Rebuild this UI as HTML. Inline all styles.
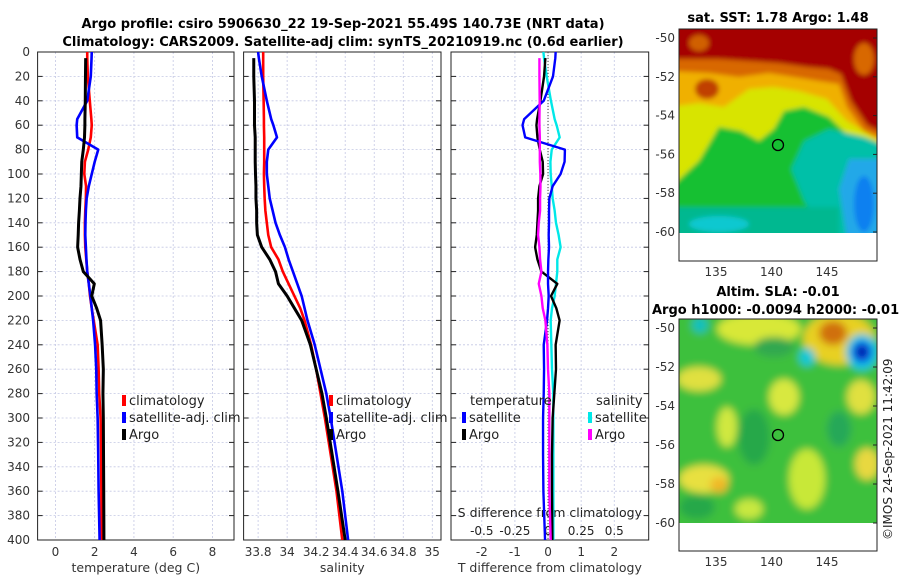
<!DOCTYPE html>
<html><head><meta charset="utf-8"><style>
html,body{margin:0;padding:0;background:#fff;}
svg{display:block;font-family:"DejaVu Sans","Liberation Sans",sans-serif;}
</style></head><body>
<svg id="fig" width="900" height="580" viewBox="0 0 900 580" xmlns="http://www.w3.org/2000/svg">
<defs>
<filter id="blur1" x="-20%" y="-20%" width="140%" height="140%"><feGaussianBlur stdDeviation="2.5"/></filter>
<filter id="blur2" x="-50%" y="-50%" width="200%" height="200%"><feGaussianBlur stdDeviation="4"/></filter>
<clipPath id="clipM1"><rect x="0" y="0" width="198" height="204"/></clipPath>
<clipPath id="clipM2"><rect x="0" y="0" width="198" height="204"/></clipPath>
</defs>
<text x="343" y="28" text-anchor="middle" font-size="13" font-weight="bold">Argo profile: csiro 5906630_22 19-Sep-2021 55.49S 140.73E (NRT data)</text>
<text x="343" y="46" text-anchor="middle" font-size="13" font-weight="bold">Climatology: CARS2009. Satellite-adj clim: synTS_20210919.nc (0.6d earlier)</text>
<g id="panels"></g>

<!-- SST map -->
<text x="778" y="22" text-anchor="middle" font-size="13" font-weight="bold">sat. SST: 1.78 Argo: 1.48</text>
<g transform="translate(679,29)">
 <g clip-path="url(#clipM1)"><g filter="url(#blur1)">
  <rect x="-10" y="-10" width="220" height="230" fill="#18c030"/>
  <polygon points="-10,-10 210,-10 210,130 175,112 150,88 125,78 105,82 95,100 80,112 62,102 40,98 20,132 -10,160" fill="#d8e400"/>
  <polygon points="-10,-10 210,-10 210,118 168,92 148,70 120,62 95,58 70,60 45,78 20,74 -10,78" fill="#f0b000"/>
  <polygon points="-10,-10 210,-10 210,112 185,102 168,78 160,55 140,52 115,48 90,44 60,48 30,44 -10,42" fill="#d86800"/>
  <polygon points="-10,-10 210,-10 210,108 188,96 172,72 162,45 150,40 128,38 100,34 70,32 40,30 15,30 -10,30" fill="#a50000"/>
  <ellipse cx="185" cy="30" rx="10" ry="16" fill="#d86800"/>
  <ellipse cx="28" cy="60" rx="12" ry="10" fill="#c04000"/>
  <ellipse cx="20" cy="14" rx="10" ry="8" fill="#d06000"/>
  <polygon points="150,100 125,112 112,140 125,172 150,210 210,210 210,118 185,108" fill="#00c0a8"/>
  <polygon points="170,130 160,160 168,210 210,210 210,130" fill="#20a8e8"/>
  <ellipse cx="185" cy="175" rx="10" ry="28" fill="#1080f0"/>
  <rect x="-10" y="178" width="170" height="40" fill="#00b890"/>
  <ellipse cx="40" cy="195" rx="30" ry="8" fill="#10c8d0"/>
 </g></g>
 <rect x="0" y="204" width="198" height="28" fill="#fff"/>
 <circle cx="99" cy="116" r="5.5" fill="none" stroke="#000" stroke-width="1.3"/>
 <rect x="0" y="0" width="198" height="232" fill="none" stroke="#222" stroke-width="1"/>
</g>
<g id="m1axes" font-size="12" fill="#333"></g>

<!-- SLA map -->
<text x="778" y="296" text-anchor="middle" font-size="13" font-weight="bold">Altim. SLA: -0.01</text>
<text x="652" y="314" font-size="13" font-weight="bold">Argo h1000: -0.0094 h2000: -0.01</text>
<g transform="translate(679,319)">
 <g clip-path="url(#clipM2)"><g filter="url(#blur2)">
  <rect x="-10" y="-10" width="220" height="230" fill="#3cc03c"/>
  <ellipse cx="80" cy="10" rx="42" ry="16" fill="#d8e838"/>
  <ellipse cx="160" cy="20" rx="36" ry="26" fill="#e8d020"/>
  <ellipse cx="154" cy="14" rx="14" ry="12" fill="#d07010"/>
  <ellipse cx="183" cy="33" rx="16" ry="18" fill="#10c8e8"/>
  <ellipse cx="183" cy="33" rx="10" ry="11" fill="#1040e0"/>
  <ellipse cx="183" cy="33" rx="5" ry="5" fill="#001890"/>
  <ellipse cx="128" cy="38" rx="8" ry="9" fill="#10c8d8"/>
  <ellipse cx="21" cy="6" rx="8" ry="8" fill="#10c0c0"/>
  <ellipse cx="20" cy="60" rx="22" ry="12" fill="#e0e040"/>
  <ellipse cx="105" cy="78" rx="15" ry="18" fill="#d8e840"/>
  <ellipse cx="48" cy="108" rx="10" ry="20" fill="#d0e840"/>
  <ellipse cx="182" cy="78" rx="14" ry="17" fill="#e0e040"/>
  <ellipse cx="188" cy="145" rx="12" ry="16" fill="#e8d840"/>
  <ellipse cx="25" cy="160" rx="25" ry="14" fill="#e8e040"/>
  <ellipse cx="40" cy="166" rx="9" ry="8" fill="#f0b828"/>
  <ellipse cx="128" cy="160" rx="18" ry="30" fill="#c8e838"/>
  <ellipse cx="75" cy="118" rx="16" ry="28" fill="#28a848"/>
  <ellipse cx="18" cy="188" rx="18" ry="12" fill="#28a848"/>
  <ellipse cx="95" cy="28" rx="20" ry="10" fill="#30a850"/>
  <ellipse cx="160" cy="110" rx="12" ry="18" fill="#28a858"/>
  <ellipse cx="70" cy="190" rx="14" ry="10" fill="#c8e840"/>
 </g></g>
 <rect x="0" y="204" width="198" height="28" fill="#fff"/>
 <circle cx="99" cy="116" r="5.5" fill="none" stroke="#000" stroke-width="1.3"/>
 <rect x="0" y="0" width="198" height="232" fill="none" stroke="#222" stroke-width="1"/>
</g>
<g id="m2axes" font-size="12" fill="#333"></g>
<text transform="translate(892,540) rotate(-90)" font-size="12" fill="#222">©IMOS 24-Sep-2021 11:42:09</text>
</svg>
<script>
// ---- profile data ----
const depth = [0,5,20,40,55,60,70,80,90,100,110,120,130,140,150,160,170,180,190,200,210,220,240,260,280,300,330,360,400];
const climT = [1.62,1.62,1.65,1.75,1.83,1.85,1.8,1.67,1.5,1.47,1.56,1.55,1.52,1.5,1.5,1.52,1.57,1.62,1.7,1.76,1.85,1.95,2.15,2.2,2.23,2.3,2.33,2.34,2.34];
const satT  = [1.85,1.84,1.8,1.62,1.11,1.08,1.11,2.18,2.0,1.85,1.7,1.59,1.55,1.53,1.52,1.55,1.58,1.62,1.7,1.78,1.85,1.92,2.02,2.08,2.1,2.15,2.18,2.2,2.25];
const argoT = [null,1.54,1.53,1.52,1.5,1.5,1.48,1.42,1.34,1.32,1.3,1.25,1.22,1.18,1.16,1.13,1.25,1.42,1.98,1.85,2.1,2.3,2.38,2.44,2.42,2.44,2.45,2.46,2.47];
const climS = [33.835,33.835,33.835,33.838,33.84,33.84,33.842,33.842,33.842,33.84,33.842,33.845,33.85,33.86,33.87,33.89,33.94,33.97,34.01,34.05,34.09,34.12,34.165,34.2,34.23,34.26,34.3,34.34,34.38];
const satS  = [33.8,33.805,33.825,33.86,33.89,33.905,33.93,33.87,33.86,33.86,33.87,33.88,33.9,33.92,33.95,33.985,34.01,34.04,34.07,34.1,34.12,34.14,34.19,34.23,34.27,34.3,34.34,34.38,34.42];
const argoS = [null,33.77,33.77,33.775,33.775,33.775,33.78,33.78,33.78,33.782,33.785,33.785,33.79,33.79,33.795,33.825,33.88,33.92,33.94,34.0,34.05,34.1,34.16,34.2,34.24,34.27,34.31,34.35,34.40];
const depthTicks = [0,20,40,60,80,100,120,140,160,180,200,220,240,260,280,300,320,340,360,380,400];
const tTicks = [0,2,4,6,8];
const sTicks = [33.8,34,34.2,34.4,34.6,34.8,35];
const dTTicks = [-2,-1,0,1,2];
const dSTicks = [-0.5,-0.25,0,0.25,0.5];
const latTicks = [-50,-52,-54,-56,-58,-60];
const lonTicks = [135,140,145];

const NS='http://www.w3.org/2000/svg';
function mk(tag, attrs, parent){const e=document.createElementNS(NS,tag);for(const k in attrs)e.setAttribute(k,attrs[k]);parent.appendChild(e);return e;}
const top0=52, bot0=540;
const yD = d => top0 + (d/400)*(bot0-top0);
const panels=[
 {name:'temperature',x0:37.6,x1:234,d0:-0.91,d1:9.1},
 {name:'salinity',x0:243.6,x1:441,d0:33.70,d1:35.06},
 {name:'difference',x0:451,x1:648.7,d0:-2.93,d1:3.04}
];
panels.forEach(p=>{p.f=v=>p.x0+(v-p.d0)/(p.d1-p.d0)*(p.x1-p.x0);});
const G=document.getElementById('panels');
function frame(p, ticks, labelsFn){
 const g=mk('g',{},G);
 
 
 depthTicks.forEach(d=>{mk('line',{x1:p.x0,x2:p.x1,y1:yD(d),y2:yD(d),stroke:'#c4c8e4','stroke-width':0.8,'stroke-dasharray':'2,2'},g);
  mk('line',{x1:p.x0,x2:p.x0+5,y1:yD(d),y2:yD(d),stroke:'#222'},g);mk('line',{x1:p.x1-5,x2:p.x1,y1:yD(d),y2:yD(d),stroke:'#222'},g);});
 ticks.forEach(t=>{const x=p.f(t);mk('line',{x1:x,x2:x,y1:top0,y2:bot0,stroke:'#c4c8e4','stroke-width':0.8,'stroke-dasharray':'2,2'},g);});
 mk('rect',{x:p.x0,y:top0,width:p.x1-p.x0,height:bot0-top0,fill:'none',stroke:'#222','stroke-width':1},g);
 return g;
}
function line(g,vals,p,color,w,name){
 let dstr='';let first=true;
 vals.forEach((v,i)=>{if(v===null)return;dstr+=(first?'M':'L')+p.f(v).toFixed(2)+','+yD(depth[i]).toFixed(2);first=false;});
 const e=mk('path',{d:dstr,fill:'none',stroke:color,'stroke-width':w,'stroke-linejoin':'round'},g);
 
 
}
function text(g,x,y,s,anchor,size,name,fill){
 const e=mk('text',{x:x,y:y,'text-anchor':anchor||'start','font-size':size||12,fill:fill||'#333'},g);e.textContent=s;
 
 
 return e;
}
function legend(g,x,y,color,label){
 mk('rect',{x:x-2,y:y-10,width:4,height:11,fill:color},g);
 text(g,x+5,y,label,'start',13,'legend-entry','#222');
}
// y tick labels
const ylab=mk('g',{},G);
depthTicks.forEach(d=>text(ylab,30,yD(d)+4,String(d),'end',12,'y-tick-label'));
// panel 1
let p=panels[0], g=frame(p,tTicks);
tTicks.forEach(t=>text(g,p.f(t),556,String(t),'middle',12,'x-tick-label'));
text(g,(p.x0+p.x1)/2,572,'temperature (deg C)','middle',12.5,'x-axis-title');
line(g,climT,p,'#ff0000',2.6,'climatology-temperature-line');
line(g,satT,p,'#0000ff',2.6,'satellite-temperature-line');
line(g,argoT,p,'#000',3,'argo-temperature-line');
legend(g,124,405,'#ff0000','climatology');legend(g,124,422,'#0000ff','satellite-adj. clim');legend(g,124,439,'#000','Argo');
// panel 2
p=panels[1]; g=frame(p,sTicks);
sTicks.forEach(t=>text(g,p.f(t),556,String(t),'middle',12,'x-tick-label'));
text(g,(p.x0+p.x1)/2,572,'salinity','middle',12.5,'x-axis-title');
line(g,climS,p,'#ff0000',2.6,'climatology-salinity-line');
line(g,satS,p,'#0000ff',2.6,'satellite-salinity-line');
line(g,argoS,p,'#000',3,'argo-salinity-line');
legend(g,331,405,'#ff0000','climatology');legend(g,331,422,'#0000ff','satellite-adj. clim');legend(g,331,439,'#000','Argo');
// panel 3
p=panels[2]; g=frame(p,dTTicks);
mk('line',{x1:p.f(0),x2:p.f(0),y1:top0,y2:bot0,stroke:'#444','stroke-width':1,'stroke-dasharray':'1,2'},g);
dTTicks.forEach(t=>text(g,p.f(t),556,String(t),'middle',12,'x-tick-label'));
dSTicks.forEach(t=>text(g,p.f(t*4),535,String(t),'middle',12,'s-tick-label','#222'));
text(g,(p.x0+p.x1)/2,517,'S difference from climatology','middle',12.5,'s-axis-title','#222');
text(g,(p.x0+p.x1)/2,572,'T difference from climatology','middle',12.5,'x-axis-title');
const dTsat=satT.map((v,i)=>v-climT[i]);
const dTargo=argoT.map((v,i)=>v===null?null:v-climT[i]);
const dSsat=satS.map((v,i)=>(v-climS[i])*4);
const dSargo=argoS.map((v,i)=>v===null?null:(v-climS[i])*4);
line(g,dSsat,p,'#00e8e8',2.4,'satellite-salinity-diff-line');
line(g,dTargo,p,'#000',2.4,'argo-temperature-diff-line');
line(g,dTsat,p,'#0000ff',2.4,'satellite-temperature-diff-line');
line(g,dSargo,p,'#ff00ff',2.4,'argo-salinity-diff-line');
text(g,470,405,'temperature','start',13,'legend-title','#222');
text(g,596,405,'salinity','start',13,'legend-title','#222');
legend(g,464,422,'#0000ff','satellite');legend(g,464,439,'#000','Argo');
legend(g,590,422,'#00e8e8','satellite');legend(g,590,439,'#ff00ff','Argo');
// map axes
function mapAxes(id,top,lat0y,dy,bottom){
 const g=document.getElementById(id);
 latTicks.forEach(l=>{const y=lat0y+(-50-l)*dy;
  text(g,675,y+4,String(l),'end',12,'lat-tick-label');
  mk('line',{x1:873,x2:877,y1:y,y2:y,stroke:'#222'},g);});
 lonTicks.forEach(l=>{const x=716+(l-135)*11.1;
  text(g,x,bottom+15,String(l),'middle',12,'lon-tick-label');});
}
mapAxes('m1axes',29,38,19.4,261);
mapAxes('m2axes',319,328,19.5,551);
</script>
</body></html>
